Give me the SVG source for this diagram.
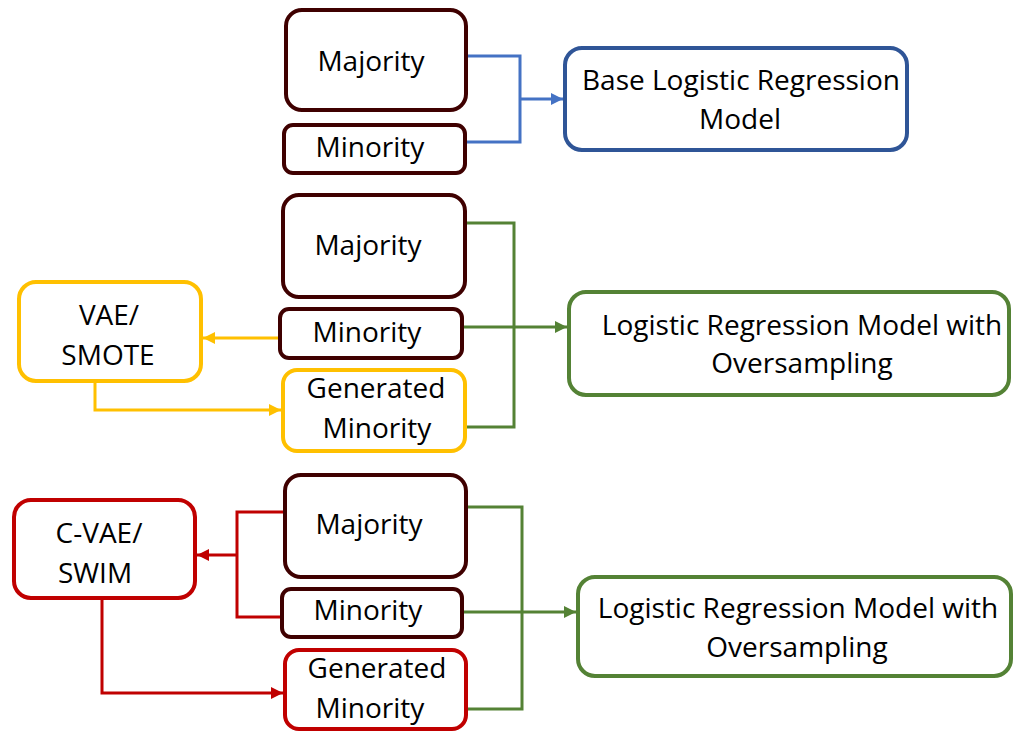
<svg xmlns="http://www.w3.org/2000/svg" width="1013" height="732" viewBox="0 0 1013 732">
<defs>
<style>
.box{fill:#fff;stroke-width:4}
.dk{stroke:#3F0000}
.yl{stroke:#FFC000}
.rd{stroke:#C00000}
.gr{stroke:#548235}
.bl{stroke:#2F5597}
.t{font-family:"Open Sans","Noto Sans",sans-serif;font-size:28px;fill:#000;text-anchor:middle}
.c{fill:none;stroke-width:3}
</style>
<marker id="aB" markerUnits="userSpaceOnUse" markerWidth="12" markerHeight="12" refX="12" refY="6" orient="auto"><path d="M0,0 L12,6 L0,12 z" fill="#4472C4"/></marker>
<marker id="aG" markerUnits="userSpaceOnUse" markerWidth="12" markerHeight="12" refX="12" refY="6" orient="auto"><path d="M0,0 L12,6 L0,12 z" fill="#548235"/></marker>
<marker id="aY" markerUnits="userSpaceOnUse" markerWidth="12" markerHeight="12" refX="12" refY="6" orient="auto"><path d="M0,0 L12,6 L0,12 z" fill="#FFC000"/></marker>
<marker id="aR" markerUnits="userSpaceOnUse" markerWidth="12" markerHeight="12" refX="12" refY="6" orient="auto"><path d="M0,0 L12,6 L0,12 z" fill="#C00000"/></marker>
</defs>
<rect width="1013" height="732" fill="#fff"/>
<g id="connectors">
<path class="c" stroke="#4472C4" d="M468,56 H520 V142 H466"/>
<path class="c" stroke="#4472C4" d="M520,99 H563" marker-end="url(#aB)"/>
<path class="c" stroke="#548235" d="M467,223 H514 V427 H467"/>
<path class="c" stroke="#548235" d="M464,327 H567" marker-end="url(#aG)"/>
<path class="c" stroke="#548235" d="M468,507 H522 V709 H468"/>
<path class="c" stroke="#548235" d="M464,612 H576" marker-end="url(#aG)"/>
<path class="c" stroke="#FFC000" d="M279,338 H203" marker-end="url(#aY)"/>
<path class="c" stroke="#FFC000" d="M95,382 V410 H281" marker-end="url(#aY)"/>
<path class="c" stroke="#C00000" d="M283,512 H237 V617 H281"/>
<path class="c" stroke="#C00000" d="M237,555 H197" marker-end="url(#aR)"/>
<path class="c" stroke="#C00000" d="M102,599 V693 H283" marker-end="url(#aR)"/>
</g>
<g id="majority1"><rect class="box dk" x="286" y="10" width="180" height="100" rx="16"/><text class="t" x="371" y="71">Majority</text></g>
<g id="minority1"><rect class="box dk" x="284" y="125" width="181" height="48" rx="9"/><text class="t" x="370" y="157">Minority</text></g>
<g id="base-lr"><rect class="box bl" x="565" y="48" width="342" height="102" rx="17"/><text class="t" x="741" y="90">Base Logistic Regression</text><text class="t" x="740" y="129">Model</text></g>
<g id="majority2"><rect class="box dk" x="283" y="195" width="182" height="102" rx="16"/><text class="t" x="368" y="255">Majority</text></g>
<g id="minority2"><rect class="box dk" x="280" y="309" width="182" height="49" rx="9"/><text class="t" x="367" y="342">Minority</text></g>
<g id="generated2"><rect class="box yl" x="283" y="370" width="182" height="81" rx="14"/><text class="t" x="376" y="398">Generated</text><text class="t" x="377" y="438">Minority</text></g>
<g id="vae-smote"><rect class="box yl" x="19" y="282" width="182" height="99" rx="17"/><text class="t" x="109" y="325">VAE/</text><text class="t" x="108" y="365">SMOTE</text></g>
<g id="lr2"><rect class="box gr" x="569" y="292" width="440" height="103" rx="17"/><text class="t" x="802" y="335">Logistic Regression Model with</text><text class="t" x="802" y="373">Oversampling</text></g>
<g id="majority3"><rect class="box dk" x="285" y="475" width="181" height="102" rx="16"/><text class="t" x="369" y="534">Majority</text></g>
<g id="minority3"><rect class="box dk" x="282" y="589" width="180" height="48" rx="9"/><text class="t" x="368" y="620">Minority</text></g>
<g id="generated3"><rect class="box rd" x="285" y="650" width="181" height="79" rx="14"/><text class="t" x="377" y="678">Generated</text><text class="t" x="370" y="718">Minority</text></g>
<g id="cvae-swim"><rect class="box rd" x="14" y="500" width="181" height="98" rx="17"/><text class="t" x="99" y="543">C-VAE/</text><text class="t" x="95" y="583">SWIM</text></g>
<g id="lr3"><rect class="box gr" x="578" y="577" width="433" height="99" rx="17"/><text class="t" x="798" y="618">Logistic Regression Model with</text><text class="t" x="797" y="657">Oversampling</text></g>
</svg>
